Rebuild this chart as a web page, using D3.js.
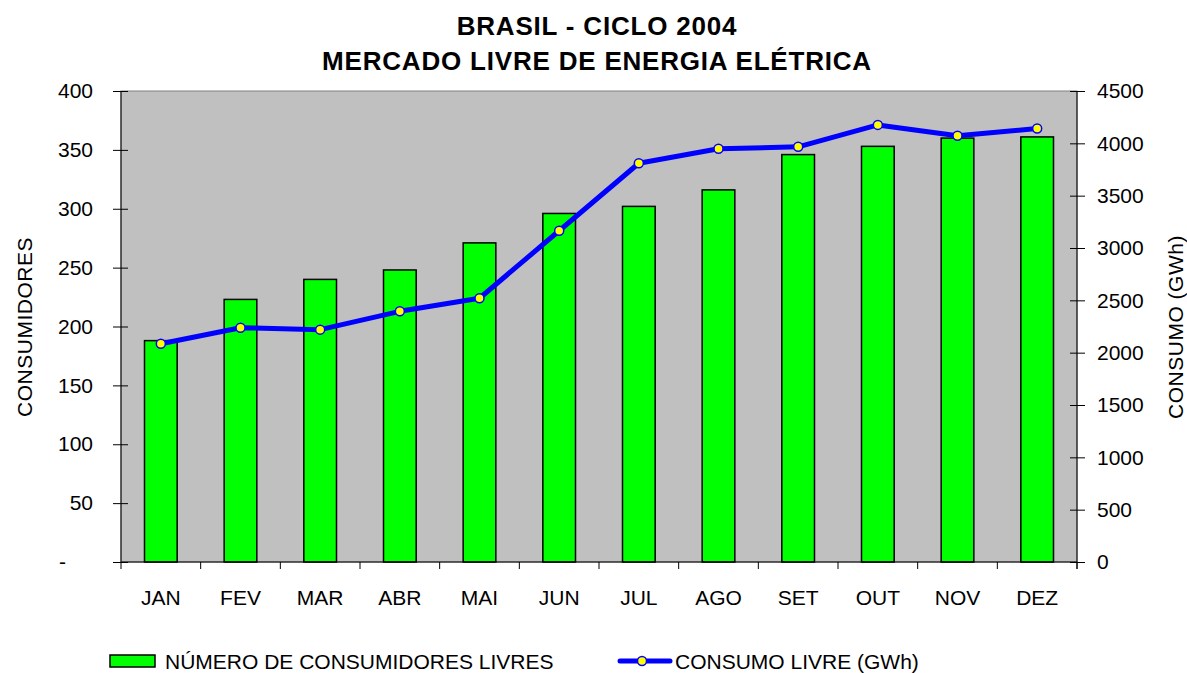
<!DOCTYPE html>
<html>
<head>
<meta charset="utf-8">
<script src="https://cdn.jsdelivr.net/npm/d3@7"></script>
<style>
  body { margin: 0; background: #fff; }
  svg { display: block; font-family: "Liberation Sans", "DejaVu Sans", sans-serif; }
</style>
</head>
<body>
<svg id="chart" width="1187" height="673"></svg>
<script>
const meses = ["JAN", "FEV", "MAR", "ABR", "MAI", "JUN", "JUL", "AGO", "SET", "OUT", "NOV", "DEZ"];
const consumidores = [188, 223, 240, 248, 271, 296, 302, 316, 346, 353, 360, 361];
const consumoGWh = [2085, 2238, 2220, 2395, 2520, 3165, 3810, 3948, 3967, 4176, 4072, 4142];
const ticksEsq = [0, 50, 100, 150, 200, 250, 300, 350, 400];
const ticksDir = [0, 500, 1000, 1500, 2000, 2500, 3000, 3500, 4000, 4500];

const svg = d3.select("#chart");
const m = { left: 121, right: 1077, top: 91, bottom: 562 };
const fs = 21;

const x = d3.scaleBand().domain(meses).range([m.left, m.right]).paddingInner(0.59).paddingOuter(0.295);
const xCat = d3.scaleBand().domain(meses).range([m.left, m.right]);
const yL = d3.scaleLinear().domain([0, 400]).range([m.bottom, m.top]);
const yR = d3.scaleLinear().domain([0, 4500]).range([m.bottom, m.top]);

// area do grafico
svg.append("rect")
  .attr("x", m.left).attr("y", m.top)
  .attr("width", m.right - m.left).attr("height", m.bottom - m.top)
  .attr("fill", "#c0c0c0").attr("stroke", "#808080").attr("stroke-width", 1);

// barras
svg.append("g").selectAll("rect").data(consumidores).join("rect")
  .attr("x", (d, i) => x(meses[i]))
  .attr("y", d => yL(d))
  .attr("width", x.bandwidth())
  .attr("height", d => yL(0) - yL(d))
  .attr("fill", "#00ff00").attr("stroke", "#000").attr("stroke-width", 1.5);

// eixo esquerdo
const axL = svg.append("g").attr("transform", `translate(${m.left},0)`)
  .call(d3.axisLeft(yL).tickValues(ticksEsq).tickSize(8).tickFormat(d => d === 0 ? "-" : d));
axL.selectAll(".tick line").attr("x1", 7);
axL.select(".domain").attr("d", `M0,${m.top}V${m.bottom}`);

// eixo direito
const axR = svg.append("g").attr("transform", `translate(${m.right},0)`)
  .call(d3.axisRight(yR).tickValues(ticksDir).tickSize(8).tickFormat(d3.format("d")));
axR.selectAll(".tick line").attr("x1", -7);
axR.select(".domain").attr("d", `M0,${m.top}V${m.bottom + 7}`);

// eixo de baixo
const axB = svg.append("g").attr("transform", `translate(0,${m.bottom})`)
  .call(d3.axisBottom(xCat).tickSize(0).tickPadding(28));
axB.select(".domain").attr("d", `M${m.left},0H${m.right}`);
axB.selectAll(".bnd").data(d3.range(13)).join("line")
  .attr("x1", i => m.left + i * xCat.step()).attr("x2", i => m.left + i * xCat.step())
  .attr("y1", 0).attr("y2", 7).attr("stroke", "#000");

[axL, axR, axB].forEach(a => {
  a.selectAll("text").attr("font-size", fs).attr("fill", "#000")
    .attr("font-family", "Liberation Sans, DejaVu Sans, sans-serif");
  a.selectAll("line, path").attr("stroke", "#000");
});
axL.selectAll(".tick text").attr("x", d => d === 0 ? -55 : -28);
axR.selectAll(".tick text").attr("x", 20);

// linha
const linha = d3.line().x((d, i) => xCat(meses[i]) + xCat.bandwidth() / 2).y(d => yR(d));
svg.append("path").datum(consumoGWh).attr("d", linha)
  .attr("fill", "none").attr("stroke", "#0000ff").attr("stroke-width", 5).attr("stroke-linejoin", "round");
svg.append("g").selectAll("circle").data(consumoGWh).join("circle")
  .attr("cx", (d, i) => xCat(meses[i]) + xCat.bandwidth() / 2)
  .attr("cy", d => yR(d)).attr("r", 4.5)
  .attr("fill", "#ffff00").attr("stroke", "#0000ff").attr("stroke-width", 1.5);

// titulos
svg.append("text").attr("x", 597).attr("y", 35).attr("text-anchor", "middle")
  .attr("font-size", 26).attr("font-weight", "bold").attr("letter-spacing", 0.8).text("BRASIL - CICLO 2004");
svg.append("text").attr("x", 597).attr("y", 70).attr("text-anchor", "middle")
  .attr("font-size", 26).attr("font-weight", "bold").attr("letter-spacing", 0.8).text("MERCADO LIVRE DE ENERGIA ELÉTRICA");

svg.append("text").attr("transform", "translate(32,327) rotate(-90)").attr("text-anchor", "middle")
  .attr("font-size", fs).attr("letter-spacing", 0.5).text("CONSUMIDORES");
svg.append("text").attr("transform", "translate(1183,327) rotate(-90)").attr("text-anchor", "middle")
  .attr("font-size", fs).attr("letter-spacing", 0.5).text("CONSUMO (GWh)");

// legenda
const leg = svg.append("g");
leg.append("rect").attr("x", 110).attr("y", 655).attr("width", 45).attr("height", 12)
  .attr("fill", "#00ff00").attr("stroke", "#000").attr("stroke-width", 1.5);
leg.append("text").attr("x", 165).attr("y", 669).attr("font-size", fs).text("NÚMERO DE CONSUMIDORES LIVRES");
leg.append("line").attr("x1", 620).attr("x2", 670).attr("y1", 661).attr("y2", 661)
  .attr("stroke", "#0000ff").attr("stroke-width", 5).attr("stroke-linecap", "round");
leg.append("circle").attr("cx", 642).attr("cy", 661).attr("r", 4.5)
  .attr("fill", "#ffff00").attr("stroke", "#0000ff").attr("stroke-width", 1.5);
leg.append("text").attr("x", 675).attr("y", 669).attr("font-size", fs).text("CONSUMO LIVRE (GWh)");
</script>
</body>
</html>
